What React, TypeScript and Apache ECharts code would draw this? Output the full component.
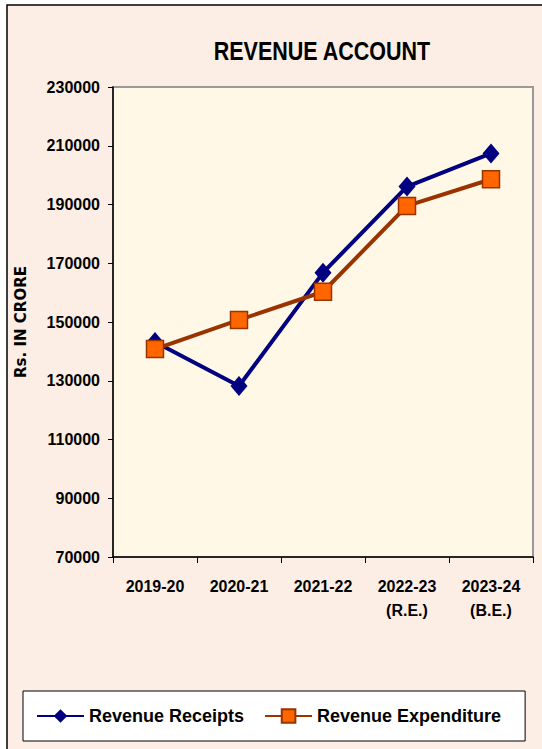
import React, { useEffect, useRef } from "react";
import * as echarts from "echarts";

const categories = ["2019-20", "2020-21", "2021-22", "2022-23\n(R.E.)", "2023-24\n(B.E.)"];
const revenueReceipts = [143200, 128200, 166800, 196100, 207400];
const revenueExpenditure = [140800, 150700, 160300, 189500, 198600];
const yMin = 70000;
const yMax = 230000;
const yInterval = 20000;
const titleText = "REVENUE ACCOUNT";

const FONT = "'Liberation Sans', Arial, sans-serif";

export default function App() {
  const ref = useRef<HTMLDivElement>(null);
  useEffect(() => {
    if (!ref.current) return;
    const chart = echarts.init(ref.current, null, { renderer: "svg" });
    chart.setOption({
      animation: false,
      backgroundColor: "#ffffff",
      graphic: {
        elements: [
          {
            type: "rect",
            z: -100,
            shape: { x: 7, y: 5, width: 600, height: 800 },
            style: { fill: "#FCEEE5", stroke: "#000000", lineWidth: 1.5 },
          },
          {
            type: "text",
            x: 322,
            y: 51,
            scaleX: 0.86,
            style: {
              text: titleText,
              fontFamily: FONT,
              fontSize: 25,
              fontWeight: "bold",
              fill: "#000",
              align: "center",
              verticalAlign: "middle",
            },
          },
        ],
      },
      grid: {
        left: 113,
        top: 87,
        right: 9,
        bottom: 192,
        show: true,
        backgroundColor: "#FFF8E6",
        borderColor: "#999999",
        borderWidth: 2,
      },
      legend: {
        left: 23,
        top: 691,
        backgroundColor: "#ffffff",
        borderColor: "#000000",
        borderWidth: 1,
        padding: [16, 24, 16, 13],
        itemWidth: 47,
        itemHeight: 17,
        itemGap: 20,
        textStyle: { fontFamily: FONT, fontSize: 18, fontWeight: "bold", color: "#000" },
        data: ["Revenue Receipts", "Revenue Expenditure"],
      },
      xAxis: {
        type: "category",
        data: categories,
        boundaryGap: true,
        axisLine: { lineStyle: { color: "#000", width: 1.5 } },
        axisTick: { show: true, inside: false, length: 6, lineStyle: { color: "#000" } },
        axisLabel: {
          fontFamily: FONT,
          fontSize: 16,
          fontWeight: "bold",
          color: "#000",
          margin: 17,
          lineHeight: 24,
          interval: 0,
        },
      },
      yAxis: {
        type: "value",
        min: yMin,
        max: yMax,
        interval: yInterval,
        name: "Rs. IN CRORE",
        nameLocation: "middle",
        nameRotate: 90,
        nameGap: 85,
        nameTextStyle: { fontFamily: "'DejaVu Sans', sans-serif", fontSize: 15, fontWeight: "bold", color: "#000" },
        splitLine: { show: false },
        axisLine: { show: true, lineStyle: { color: "#000", width: 1.5 } },
        axisTick: { show: true, inside: false, length: 5, lineStyle: { color: "#000" } },
        axisLabel: {
          fontFamily: FONT,
          fontSize: 16,
          fontWeight: "bold",
          color: "#000",
          margin: 13,
          formatter: (v: number) => String(v),
        },
      },
      series: [
        {
          name: "Revenue Receipts",
          type: "line",
          data: revenueReceipts,
          symbol: "diamond",
          symbolSize: [17, 20],
          lineStyle: { color: "#000080", width: 4 },
          itemStyle: { color: "#000080" },
          z: 2,
        },
        {
          name: "Revenue Expenditure",
          type: "line",
          data: revenueExpenditure,
          symbol: "rect",
          symbolSize: 17,
          lineStyle: { color: "#993300", width: 4 },
          itemStyle: { color: "#FF6600", borderColor: "#993300", borderWidth: 1.5 },
          z: 3,
        },
      ],
    });
    return () => chart.dispose();
  }, []);
  return (
    <div
      ref={ref}
      style={{ position: "absolute", left: 0, top: 0, width: 542, height: 749 }}
    />
  );
}
